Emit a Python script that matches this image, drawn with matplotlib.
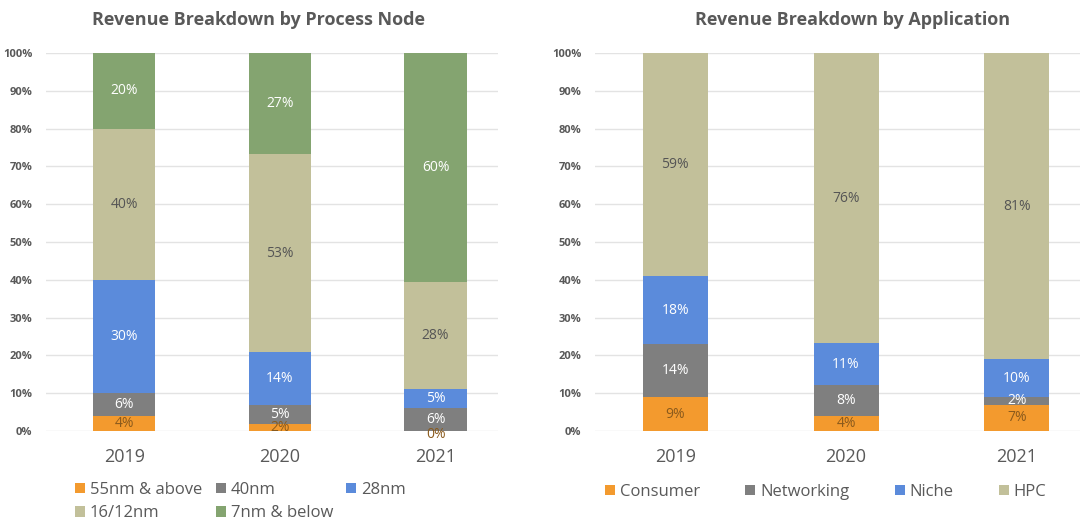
import matplotlib.pyplot as plt
import numpy as np

plt.rcParams['font.family'] = ['Open Sans', 'DejaVu Sans']

# ==============================================================================
#  数据
# ==============================================================================
years = ['2019', '2020', '2021']

node_labels = ['55nm & above', '40nm', '28nm', '16/12nm', '7nm & below']
node_55 = [4, 2, 0]
node_40 = [6, 5, 6]
node_28 = [30, 14, 5]
node_16 = [40, 53, 28]
node_7 = [20, 27, 60]

app_labels = ['Consumer', 'Networking', 'Niche', 'HPC']
app_consumer = [9, 4, 7]
app_networking = [14, 8, 2]
app_niche = [18, 11, 10]
app_hpc = [59, 76, 81]

# 配色 (Excel 风格)
ORANGE = '#F39A2E'
GRAY = '#7F7F7F'
BLUE = '#5B8BDB'
KHAKI = '#C2C09A'
GREEN = '#84A470'
TEXT = '#595959'

# 每段的颜色和数字颜色
node_styles = [(ORANGE, '#8A5A1C'), (GRAY, 'white'), (BLUE, 'white'),
               (KHAKI, '#555555'), (GREEN, 'white')]
app_styles = [(ORANGE, '#8A5A1C'), (GRAY, 'white'), (BLUE, 'white'),
              (KHAKI, '#555555')]


def stacked(ax, series, labels, styles, width, title, xlim, title_x):
    x = np.arange(len(years))
    totals = np.sum(series, axis=0)
    bottom = np.zeros(len(years))
    for vals, lab, (col, tcol) in zip(series, labels, styles):
        h = np.array(vals) / totals * 100
        ax.bar(x, h, width, bottom=bottom, color=col, label=lab, zorder=3)
        for xi, b, hi, v in zip(x, bottom, h, vals):
            # 0% 的标签稍微往下放一点
            y = b + hi / 2 if v > 0 else b - 0.8
            ax.text(xi, y, f'{v}%', ha='center', va='center',
                    color=tcol, fontsize=10, zorder=4)
        bottom = bottom + h

    ax.set_ylim(0, 100)
    ax.set_xlim(*xlim)
    ax.set_yticks(range(0, 101, 10))
    ax.set_yticklabels([f'{t}%' for t in range(0, 101, 10)], fontsize=8,
                       color=TEXT, fontweight='bold')
    ax.set_xticks(x)
    ax.set_xticklabels(years, fontsize=13, color=TEXT)
    ax.tick_params(axis='both', length=0)
    ax.tick_params(axis='x', pad=12)
    ax.tick_params(axis='y', pad=10)
    ax.grid(axis='y', color='#E3E3E3', linewidth=1, zorder=0)
    for s in ax.spines.values():
        s.set_visible(False)
    ax.set_title(title, fontsize=13, color=TEXT, fontweight='bold',
                 pad=20, x=title_x)


fig = plt.figure(figsize=(10.8, 5.25), dpi=100)

ax1 = fig.add_axes([0.043, 0.179, 0.418, 0.72])
stacked(ax1, [node_55, node_40, node_28, node_16, node_7], node_labels,
        node_styles, 0.4, 'Revenue Breakdown by Process Node', (-0.5, 2.4),
        0.47)
# 图例按行排列: 重新排序句柄 (matplotlib 默认按列填充)
h, l = ax1.get_legend_handles_labels()
order = [0, 3, 1, 4, 2]
ax1.legend([h[i] for i in order], [l[i] for i in order],
           loc='upper left', bbox_to_anchor=(0.03, -0.095), ncol=3,
           frameon=False, fontsize=12, handlelength=0.6, handleheight=0.6,
           handletextpad=0.3, columnspacing=0.8, labelspacing=0.45,
           labelcolor=TEXT)

ax2 = fig.add_axes([0.551, 0.179, 0.449, 0.72])
stacked(ax2, [app_consumer, app_networking, app_niche, app_hpc], app_labels,
        app_styles, 0.38, 'Revenue Breakdown by Application', (-0.47, 2.37),
        0.53)
ax2.legend(loc='upper left', bbox_to_anchor=(-0.01, -0.1), ncol=4,
           frameon=False, fontsize=12, handlelength=0.6, handleheight=0.6,
           handletextpad=0.3, columnspacing=2.7, labelcolor=TEXT)

plt.savefig('out.png', dpi=100)
plt.close()
